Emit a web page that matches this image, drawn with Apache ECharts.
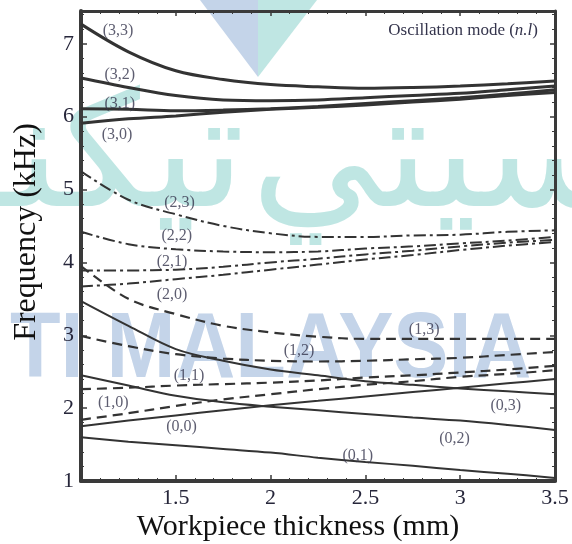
<!DOCTYPE html>
<html>
<head>
<meta charset="utf-8">
<script src="https://cdn.jsdelivr.net/npm/echarts/dist/echarts.min.js"></script>
<style>
  html, body { margin: 0; padding: 0; background: #ffffff; }
  #chart { width: 572px; height: 544px; }
</style>
</head>
<body>
<div id="chart"></div>
<script>
// Workpiece thickness (mm) at which each mode frequency is sampled
const thickness = [1.0, 1.25, 1.5, 1.75, 2.0, 2.25, 2.5, 2.75, 3.0, 3.25, 3.5];

// Natural frequencies (kHz) for each oscillation mode (n,l)
const freq33 = [7.27, 6.89, 6.63, 6.51, 6.44, 6.41, 6.39, 6.40, 6.42, 6.45, 6.49];
const freq32 = [6.53, 6.40, 6.29, 6.23, 6.22, 6.23, 6.26, 6.29, 6.32, 6.37, 6.42];
const freq31 = [6.11, 6.10, 6.08, 6.09, 6.11, 6.14, 6.18, 6.22, 6.26, 6.31, 6.37];
const freq30 = [5.91, 5.97, 6.01, 6.06, 6.10, 6.13, 6.16, 6.20, 6.24, 6.29, 6.33];

const freq23 = [5.25, 4.86, 4.66, 4.50, 4.40, 4.35, 4.35, 4.37, 4.38, 4.42, 4.44];
const freq22 = [4.42, 4.25, 4.18, 4.15, 4.14, 4.15, 4.19, 4.22, 4.26, 4.30, 4.35];
const freq21 = [3.89, 3.89, 3.90, 3.94, 4.00, 4.05, 4.11, 4.16, 4.22, 4.27, 4.31];
const freq20 = [3.67, 3.71, 3.77, 3.83, 3.90, 3.97, 4.04, 4.10, 4.17, 4.23, 4.28];

const freq13 = [3.95, 3.50, 3.29, 3.13, 3.04, 2.98, 2.95, 2.95, 2.95, 2.95, 2.95];
const freq12 = [2.99, 2.85, 2.74, 2.68, 2.65, 2.64, 2.65, 2.67, 2.69, 2.73, 2.77];
const freq11 = [2.26, 2.28, 2.31, 2.33, 2.35, 2.38, 2.42, 2.45, 2.49, 2.53, 2.58];
const freq10 = [1.84, 1.93, 2.03, 2.12, 2.19, 2.26, 2.32, 2.37, 2.43, 2.47, 2.52];

const freq03 = [3.47, 3.13, 2.81, 2.65, 2.53, 2.45, 2.37, 2.32, 2.27, 2.23, 2.19];
const freq02 = [2.45, 2.31, 2.17, 2.08, 2.02, 1.97, 1.92, 1.87, 1.83, 1.77, 1.70];
const freq01 = [1.60, 1.54, 1.49, 1.44, 1.39, 1.32, 1.26, 1.21, 1.15, 1.10, 1.04];
const freq00 = [1.75, 1.83, 1.90, 1.97, 2.04, 2.10, 2.16, 2.22, 2.28, 2.34, 2.40];

// Mode tags and the (thickness, frequency) spot where each tag sits
const modeTags = ['(3,3)', '(3,2)', '(3,1)', '(3,0)', '(2,3)', '(2,2)', '(2,1)', '(2,0)',
                  '(1,3)', '(1,2)', '(1,1)', '(1,0)', '(0,3)', '(0,2)', '(0,1)', '(0,0)'];
const tagX = [1.195, 1.205, 1.205, 1.19, 1.52, 1.505, 1.48, 1.48,
              2.81, 2.15, 1.57, 1.17, 3.24, 2.97, 2.46, 1.53];
const tagY = [7.18, 6.58, 6.18, 5.75, 4.82, 4.36, 4.01, 3.56,
              3.08, 2.78, 2.44, 2.07, 2.03, 1.58, 1.34, 1.74];

// Axis ticks
const xTickStep = 0.5;
const yTickStep = 1;

const serif = '"Liberation Serif", "Times New Roman", serif';
const ink = '#333333';
const tagInk = '#34344c';

// Line style by radial order n
const lineByOrder = {
  3: { type: 'solid', width: 3 },
  2: { type: [12, 4, 3, 4], width: 2 },
  1: { type: [10, 6], width: 2.2 },
  0: { type: 'solid', width: 2 }
};

const curves = [
  ['(3,3)', 3, freq33], ['(3,2)', 3, freq32], ['(3,1)', 3, freq31], ['(3,0)', 3, freq30],
  ['(2,3)', 2, freq23], ['(2,2)', 2, freq22], ['(2,1)', 2, freq21], ['(2,0)', 2, freq20],
  ['(1,3)', 1, freq13], ['(1,2)', 1, freq12], ['(1,1)', 1, freq11], ['(1,0)', 1, freq10],
  ['(0,3)', 0, freq03], ['(0,2)', 0, freq02], ['(0,1)', 0, freq01], ['(0,0)', 0, freq00]
];

const series = curves.map(([name, n, values]) => ({
  name: name,
  type: 'line',
  xAxisIndex: 0,
  yAxisIndex: 0,
  smooth: 0.35,
  symbol: 'none',
  silent: true,
  lineStyle: { color: ink, width: lineByOrder[n].width, type: lineByOrder[n].type, cap: 'butt' },
  data: thickness.map((t, i) => [t, values[i]]),
  z: 3
}));

series.push({
  name: 'tags',
  type: 'scatter',
  xAxisIndex: 0,
  yAxisIndex: 0,
  symbolSize: 1,
  itemStyle: { color: 'rgba(0,0,0,0)' },
  silent: true,
  label: {
    show: true,
    position: 'inside',
    formatter: p => p.data[2],
    fontFamily: serif,
    fontSize: 16,
    color: tagInk
  },
  labelLayout: { hideOverlap: false },
  data: modeTags.map((tag, i) => [tagX[i], tagY[i], tag]),
  z: 4
});

const frame = '#3a3a3a';
const tickFont = { fontFamily: serif, fontSize: 22, color: '#26263a' };
const crestTeal = '#bfe6e3';
const crestBlue = '#c4d4e9';

const chart = echarts.init(document.getElementById('chart'), null, { renderer: 'canvas' });
chart.setOption({
  animation: false,
  backgroundColor: '#ffffff',
  grid: { left: 81, right: 17, top: 11, bottom: 63, containLabel: false },
  xAxis: [
    {
      type: 'value', min: 1, max: 3.5, interval: xTickStep, position: 'bottom',
      axisLine: { onZero: false, lineStyle: { color: frame, width: 4 } },
      axisTick: { inside: true, length: 6, lineStyle: { color: frame, width: 1.5 } },
      minorTick: { show: true, splitNumber: 5, length: 3, lineStyle: { color: frame, width: 1 } },
      splitLine: { show: false },
      axisLabel: Object.assign({ formatter: v => (v === 1 ? '' : String(v)), margin: 6 }, tickFont)
    },
    {
      type: 'value', min: 1, max: 3.5, interval: xTickStep, position: 'top',
      axisLine: { onZero: false, lineStyle: { color: frame, width: 3 } },
      axisTick: { inside: true, length: 5, lineStyle: { color: frame, width: 1.5 } },
      minorTick: { show: true, splitNumber: 5, length: 3, lineStyle: { color: frame, width: 1 } },
      splitLine: { show: false },
      axisLabel: { show: false }
    }
  ],
  yAxis: [
    {
      type: 'value', min: 1, max: 7.45, interval: yTickStep, position: 'left',
      axisLine: { onZero: false, lineStyle: { color: frame, width: 4 } },
      axisTick: { inside: true, length: 6, lineStyle: { color: frame, width: 1.5 } },
      minorTick: { show: true, splitNumber: 5, length: 3, lineStyle: { color: frame, width: 1 } },
      splitLine: { show: false },
      axisLabel: Object.assign({ formatter: v => (Number.isInteger(v) ? String(v) : ''), margin: 7 }, tickFont)
    },
    {
      type: 'value', min: 1, max: 7.45, interval: yTickStep, position: 'right',
      axisLine: { onZero: false, lineStyle: { color: frame, width: 3 } },
      axisTick: { inside: true, length: 5, lineStyle: { color: frame, width: 1.5 } },
      minorTick: { show: true, splitNumber: 5, length: 3, lineStyle: { color: frame, width: 1 } },
      splitLine: { show: false },
      axisLabel: { show: false }
    }
  ],
  graphic: [
    // faint university crest behind the plot
    { type: 'polygon', z: -10, silent: true,
      shape: { points: [[200, 0], [258, 0], [258, 77]] },
      style: { fill: crestBlue } },
    { type: 'polygon', z: -10, silent: true,
      shape: { points: [[258, 0], [317, 0], [258, 77]] },
      style: { fill: crestTeal } },
    { type: 'text', z: -10, silent: true, x: 615, y: 244,
      style: { text: 'سيتي', font: '160px "DejaVu Sans"', fill: crestTeal,
               textAlign: 'right', textVerticalAlign: 'bottom' } },
    { type: 'text', z: -10, silent: true, x: 245, y: 244,
      style: { text: 'تيكنولوݢي', font: '160px "DejaVu Sans"', fill: crestTeal,
               textAlign: 'right', textVerticalAlign: 'bottom' } },
    { type: 'text', z: -10, silent: true, x: 10, y: 306, scaleX: 0.9,
      style: { text: 'TI MALAYSIA', font: 'bold 92px "Liberation Sans"', fill: crestBlue,
               textAlign: 'left', textVerticalAlign: 'top' } },
    // axis titles
    { type: 'text', z: 5, silent: true, x: 298, y: 527,
      style: { text: 'Workpiece thickness (mm)', font: '30px "Liberation Serif"', fill: '#111111',
               textAlign: 'center', textVerticalAlign: 'middle' } },
    { type: 'text', z: 5, silent: true, x: 27, y: 232, rotation: Math.PI / 2,
      style: { text: 'Frequency (kHz)', font: '32px "Liberation Serif"', fill: '#111111',
               textAlign: 'center', textVerticalAlign: 'middle' } },
    // legend caption
    { type: 'text', z: 5, silent: true, x: 538, y: 31,
      style: {
        text: '{a|Oscillation mode (}{b|n.l}{a|)}',
        textAlign: 'right', textVerticalAlign: 'middle',
        rich: {
          a: { fontFamily: serif, fontSize: 17, fill: tagInk },
          b: { fontFamily: serif, fontSize: 17, fontStyle: 'italic', fill: tagInk }
        }
      } }
  ],
  series: series
});
</script>
</body>
</html>
